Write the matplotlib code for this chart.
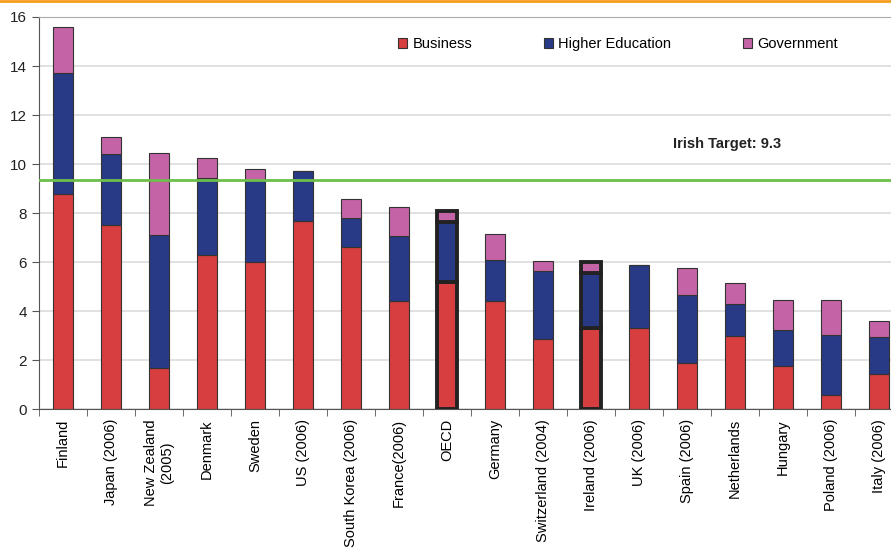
import matplotlib.pyplot as plt
import numpy as np
from matplotlib.lines import Line2D

plt.rcParams['font.family'] = ['Liberation Sans', 'DejaVu Sans']

# datos
paises = ['Finland', 'Japan (2006)', 'New Zealand\n(2005)', 'Denmark', 'Sweden',
          'US (2006)', 'South Korea (2006)', 'France(2006)', 'OECD', 'Germany',
          'Switzerland (2004)', 'Ireland (2006)', 'UK (2006)', 'Spain (2006)',
          'Netherlands', 'Hungary', 'Poland (2006)', 'Italy (2006)']
business = [8.8, 7.5, 1.7, 6.3, 6.0, 7.7, 6.6, 4.4, 5.2, 4.4,
            2.85, 3.3, 3.3, 1.9, 3.0, 1.75, 0.6, 1.45]
higher_ed = [4.9, 2.9, 5.4, 3.15, 3.35, 2.0, 1.2, 2.65, 2.45, 1.7,
             2.8, 2.25, 2.6, 2.75, 1.3, 1.5, 2.45, 1.5]
government = [1.9, 0.7, 3.35, 0.8, 0.45, 0.0, 0.77, 1.2, 0.45, 1.05,
              0.4, 0.45, 0.0, 1.1, 0.87, 1.2, 1.4, 0.65]
resaltados = ['OECD', 'Ireland (2006)']
objetivo = 9.35
texto_objetivo = 'Irish Target: 9.3'

c_bus = '#d73e3f'
c_he = '#283a86'
c_gov = '#c464a7'

fig = plt.figure(figsize=(8.91, 5.5), dpi=100)
ax = fig.add_axes([0.0438, 0.2558, 0.9697, 0.7133])

x = np.arange(len(paises))
b = np.array(business)
h = np.array(higher_ed)
g = np.array(government)

lw = [2.8 if p in resaltados else 0.8 for p in paises]
ec = ['#222222' if p in resaltados else '#333333' for p in paises]

ax.bar(x, b, 0.41, color=c_bus, edgecolor=ec, linewidth=lw, label='Business', zorder=3)
ax.bar(x, h, 0.41, bottom=b, color=c_he, edgecolor=ec, linewidth=lw, label='Higher Education', zorder=3)
ax.bar(x, g, 0.41, bottom=b + h, color=c_gov, edgecolor=ec, linewidth=lw, label='Government', zorder=3)

ax.axhline(objetivo, color='#6cbf4a', linewidth=2, zorder=4)
ax.text(13.83, 10.82, texto_objetivo, fontsize=10.5, fontweight='bold', color='#222222',
        ha='center', va='center')

ax.set_xlim(-0.5, 17.5)
ax.set_ylim(0, 16)
ax.set_yticks(range(0, 17, 2))
ax.yaxis.grid(True, color='#dcdcdc', linewidth=1.2, zorder=0)
ax.set_axisbelow(True)

ax.set_xticks(x)
ax.set_xticklabels(paises, rotation=90, fontsize=10.5, va='top', ha='center',
                   multialignment='center')
ax.set_xticks(np.arange(-0.5, 18, 1), minor=True)
ax.tick_params(axis='x', which='major', length=0, pad=7)
ax.tick_params(axis='x', which='minor', length=5, color='#555555', direction='out')
ax.tick_params(axis='y', labelsize=11, length=5, color='#555555', labelcolor='#222222')

for s in ['left', 'bottom']:
    ax.spines[s].set_color('#555555')
ax.spines['top'].set_color('#aaaaaa')
ax.spines['right'].set_visible(False)

leg = ax.legend(loc='center', bbox_to_anchor=(0.67, 0.93), ncol=3, frameon=False,
                fontsize=10.5, handlelength=0.65, handleheight=0.65, columnspacing=4.9,
                handletextpad=0.35)
for p in leg.get_patches():
    p.set_edgecolor('#333333')
    p.set_linewidth(0.8)

fig.add_artist(Line2D([0, 1], [0.999, 0.999], color='#f39c1e', linewidth=2,
                      transform=fig.transFigure))

plt.savefig('out.png', dpi=100)
